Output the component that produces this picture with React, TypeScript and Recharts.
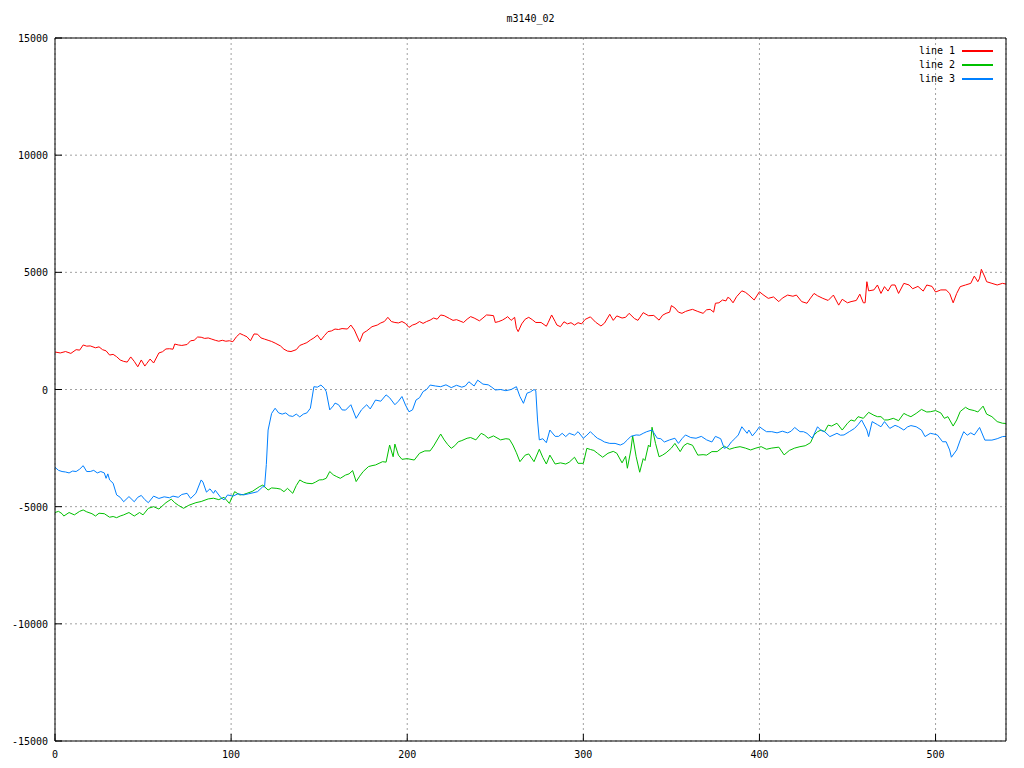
import React from 'react';
import { LineChart, Line, XAxis, YAxis, CartesianGrid } from 'recharts';

// [x, value] pairs
const line1: [number, number][] = [
  [0, 1600], [3, 1560], [6, 1620], [9, 1540], [12, 1700], [14, 1680], [16, 1900], [18, 1850], [20, 1860],
  [23, 1780], [25, 1820], [27, 1700], [29, 1650], [31, 1470], [33, 1500], [35, 1400], [37, 1260], [39, 1200],
  [41, 1170], [43, 1390], [45, 1200], [47, 970], [49, 1260], [51, 1000], [52, 1100], [54, 1300], [56, 1130],
  [59, 1560], [61, 1610], [63, 1730], [65, 1740], [67, 1720], [68, 1940], [70, 1900], [72, 1880], [75, 1920],
  [77, 2080], [79, 2100], [81, 2240], [83, 2230], [85, 2180], [87, 2200], [89, 2150], [91, 2100], [93, 2060],
  [95, 2100], [97, 2060], [99, 2080], [101, 2040], [103, 2250], [105, 2390], [107, 2320], [109, 2250],
  [111, 2080], [113, 2370], [115, 2360], [117, 2200], [119, 2150], [121, 2100], [123, 2050], [125, 1980],
  [128, 1860], [130, 1720], [132, 1640], [134, 1620], [137, 1700], [139, 1880], [141, 1940], [143, 2000],
  [145, 2110], [147, 2200], [149, 2320], [151, 2110], [153, 2300], [155, 2470], [157, 2500], [159, 2580],
  [161, 2560], [163, 2600], [166, 2580], [168, 2750], [170, 2540], [172, 2200], [173, 2040], [175, 2410],
  [177, 2500], [180, 2680], [183, 2750], [185, 2840], [187, 2900], [189, 3080], [191, 2900], [193, 2860],
  [195, 2840], [197, 2900], [199, 2820], [201, 2650], [203, 2750], [205, 2800], [207, 2900], [209, 2820],
  [211, 2900], [213, 2960], [215, 3050], [217, 3000], [219, 3180], [221, 3150], [224, 3030], [226, 2950],
  [228, 2980], [230, 2920], [232, 2860], [234, 3000], [236, 3110], [238, 3050], [241, 2930], [243, 3050],
  [245, 3180], [247, 3170], [249, 3150], [250, 2860], [252, 2900], [254, 2960], [256, 3050], [257, 3110],
  [259, 2950], [261, 3080], [262, 2610], [263, 2470], [265, 2800], [267, 3000], [269, 3080], [271, 2980],
  [273, 2860], [276, 2860], [279, 2700], [280, 2850], [282, 3180], [284, 2900], [285, 2750], [287, 2680],
  [289, 2890], [291, 2800], [293, 2850], [295, 2750], [297, 2850], [299, 2800], [301, 2990], [304, 3100],
  [307, 2870], [310, 2710], [312, 2830], [315, 3210], [317, 2950], [319, 3140], [322, 3050], [324, 3080],
  [326, 3250], [329, 3030], [331, 2950], [334, 3280], [337, 3150], [340, 3160], [343, 2960], [345, 3170],
  [347, 3250], [349, 3300], [350, 3580], [352, 3480], [354, 3300], [356, 3250], [358, 3330], [360, 3380],
  [362, 3420], [365, 3330], [368, 3250], [370, 3400], [372, 3420], [374, 3300], [375, 3680], [377, 3700],
  [379, 3820], [381, 3780], [382, 3930], [383, 3900], [385, 3700], [387, 3960], [390, 4210], [392, 4150],
  [394, 4030], [397, 3820], [400, 4170], [402, 4050], [405, 3890], [408, 3950], [411, 3750], [413, 3900],
  [416, 4030], [419, 3980], [421, 4030], [424, 3750], [427, 3680], [429, 3900], [431, 4100], [433, 4000],
  [436, 3890], [439, 3800], [442, 4030], [445, 3600], [447, 3850], [450, 3700], [452, 3750], [455, 3800],
  [457, 4070], [459, 3700], [460, 3700], [461, 4600], [462, 4210], [465, 4250], [467, 4460], [469, 4100],
  [471, 4390], [473, 4200], [475, 4460], [477, 4460], [479, 4100], [482, 4530], [485, 4460], [487, 4300],
  [490, 4400], [493, 4200], [495, 4460], [498, 4400], [500, 4160], [503, 4250], [506, 4250], [508, 4100],
  [510, 3700], [512, 4100], [514, 4390], [517, 4460], [520, 4530], [522, 4840], [524, 4600], [525, 4750],
  [526, 5130], [528, 4800], [529, 4600], [532, 4530], [535, 4460], [538, 4530], [540, 4500],
];

const line2: [number, number][] = [
  [0, -5250], [2, -5200], [4, -5300], [5, -5400], [8, -5250], [11, -5350], [14, -5200], [16, -5140],
  [18, -5220], [21, -5300], [23, -5400], [25, -5280], [28, -5300], [31, -5450], [33, -5420], [35, -5470],
  [37, -5400], [39, -5350], [42, -5250], [45, -5400], [48, -5250], [50, -5350], [53, -5070], [56, -5000],
  [59, -5100], [63, -4830], [66, -4680], [68, -4830], [70, -4940], [73, -5070], [76, -4940], [80, -4830],
  [83, -4780], [87, -4670], [90, -4640], [93, -4700], [96, -4600], [99, -4860], [102, -4360], [105, -4500],
  [107, -4480], [109, -4430], [112, -4350], [116, -4150], [118, -4080], [121, -4290], [123, -4200],
  [126, -4220], [128, -4250], [130, -4360], [132, -4220], [135, -4430], [137, -4100], [139, -3860],
  [141, -3950], [143, -4000], [146, -4020], [148, -3950], [150, -3860], [152, -3850], [154, -3790],
  [156, -3500], [158, -3640], [160, -3720], [162, -3790], [165, -3650], [167, -3600], [169, -3460],
  [171, -3930], [173, -3700], [175, -3500], [178, -3290], [180, -3250], [182, -3220], [184, -3150],
  [186, -3080], [188, -3100], [190, -2370], [192, -2870], [193, -2330], [195, -2800], [197, -2980],
  [200, -2950], [204, -3010], [207, -2720], [210, -2620], [213, -2620], [215, -2410], [219, -1900],
  [221, -2150], [223, -2350], [225, -2510], [227, -2400], [229, -2230], [231, -2180], [234, -2080],
  [236, -2050], [239, -2150], [242, -1870], [244, -1950], [246, -2080], [249, -1980], [253, -2150],
  [256, -2100], [258, -2120], [260, -2370], [262, -2700], [264, -3080], [267, -2800], [269, -2750],
  [272, -3080], [275, -2550], [277, -2900], [279, -3180], [281, -2800], [284, -3180], [287, -3130],
  [290, -3180], [292, -3100], [295, -2890], [297, -3150], [300, -3150], [302, -2510], [304, -2560],
  [306, -2600], [308, -2720], [311, -2890], [314, -2720], [317, -2640], [319, -2720], [322, -3130],
  [324, -2850], [325, -3360], [327, -2580], [328, -1980], [330, -2870], [332, -3530], [334, -2950],
  [335, -3030], [337, -2370], [338, -2450], [339, -1610], [341, -2300], [343, -2870], [345, -2800],
  [347, -2700], [350, -2500], [352, -2300], [355, -2650], [357, -2400], [359, -2300], [362, -2380],
  [365, -2800], [368, -2780], [370, -2800], [373, -2650], [376, -2650], [380, -2420], [383, -2550],
  [386, -2480], [389, -2440], [392, -2500], [395, -2580], [398, -2500], [401, -2440], [404, -2550],
  [407, -2500], [411, -2460], [414, -2790], [417, -2600], [420, -2500], [423, -2440], [426, -2400],
  [429, -2270], [431, -1940], [433, -1800], [435, -1730], [437, -1800], [439, -1520], [441, -1560],
  [444, -1440], [447, -1730], [450, -1440], [452, -1300], [454, -1350], [456, -1160], [459, -1230],
  [462, -975], [465, -1100], [467, -1160], [469, -1160], [471, -1300], [473, -1300], [476, -1230],
  [479, -1330], [482, -1020], [484, -1100], [486, -1160], [489, -1020], [492, -850], [495, -960],
  [497, -950], [500, -900], [503, -1000], [505, -1230], [507, -1160], [510, -1560], [512, -1300],
  [514, -940], [517, -760], [519, -850], [522, -900], [524, -960], [527, -710], [529, -1050], [532, -1160],
  [535, -1370], [538, -1440], [540, -1450],
];

const line3: [number, number][] = [
  [0, -3320], [2, -3450], [4, -3500], [6, -3520], [8, -3560], [10, -3480], [12, -3500], [14, -3400],
  [16, -3250], [18, -3500], [20, -3500], [22, -3450], [24, -3560], [26, -3500], [28, -3560], [29, -3790],
  [30, -3600], [31, -3860], [33, -4000], [35, -4500], [37, -4600], [39, -4790], [42, -4570], [45, -4790],
  [47, -4600], [49, -4520], [51, -4700], [53, -4830], [56, -4550], [59, -4650], [62, -4580], [65, -4620],
  [67, -4550], [70, -4600], [72, -4480], [75, -4430], [77, -4650], [80, -4430], [83, -3860], [84, -3950],
  [86, -4380], [88, -4240], [90, -4430], [91, -4300], [94, -4600], [96, -4710], [98, -4500], [101, -4550],
  [104, -4450], [107, -4500], [110, -4450], [113, -4400], [115, -4360], [118, -4150], [119, -4150],
  [120, -3200], [121, -1730], [123, -1020], [125, -800], [127, -1000], [129, -1050], [131, -1000],
  [133, -1120], [135, -1150], [137, -1050], [139, -1170], [141, -1050], [143, -1000], [145, -800],
  [147, 120], [149, 100], [151, 190], [153, 50], [154, -90], [156, -870], [158, -700], [159, -580],
  [161, -650], [163, -870], [165, -880], [168, -650], [171, -1230], [174, -870], [177, -650], [179, -830],
  [182, -450], [185, -500], [188, -230], [190, -350], [191, -450], [193, -650], [195, -500], [197, -300],
  [199, -660], [201, -950], [203, -870], [205, -450], [207, -350], [209, -90], [211, 0], [213, 190],
  [216, 150], [219, 120], [222, 200], [225, 80], [228, 180], [231, 100], [233, 150], [235, 330], [238, 150],
  [240, 400], [243, 230], [246, 200], [248, 100], [250, -20], [253, 0], [256, -50], [259, 0], [262, 120],
  [264, -300], [266, -590], [268, -160], [270, -100], [272, 0], [273, -50], [274, -1300], [275, -2150],
  [277, -2100], [279, -2270], [281, -1730], [284, -2000], [286, -2000], [288, -1870], [290, -2010],
  [292, -1870], [295, -1950], [297, -1800], [300, -2080], [302, -1950], [304, -1800], [306, -1950],
  [308, -2080], [310, -2150], [312, -2240], [315, -2300], [318, -2300], [321, -2370], [323, -2300],
  [325, -2150], [327, -2000], [330, -1940], [332, -1950], [334, -1870], [336, -1800], [339, -1730],
  [342, -2080], [344, -2100], [346, -2240], [349, -2150], [352, -2080], [354, -2300], [356, -2100],
  [358, -1940], [361, -2050], [364, -2080], [367, -2000], [370, -2150], [373, -2240], [375, -2000],
  [378, -2100], [380, -2510], [382, -2450], [384, -2240], [386, -2100], [388, -1940], [390, -1590],
  [393, -1870], [394, -1730], [396, -1980], [398, -1800], [400, -1590], [402, -1700], [404, -1800],
  [407, -1800], [410, -1850], [413, -1780], [416, -1850], [418, -1780], [420, -1620], [423, -1800],
  [425, -1800], [427, -1870], [430, -2080], [433, -1590], [435, -1750], [437, -1800], [440, -2010],
  [444, -1870], [446, -1950], [448, -1940], [451, -1800], [454, -1660], [456, -1500], [458, -1300],
  [461, -1730], [462, -2010], [464, -1370], [467, -1500], [469, -1590], [471, -1370], [474, -1660],
  [477, -1530], [479, -1590], [482, -1730], [484, -1600], [486, -1540], [489, -1590], [492, -1730],
  [494, -2010], [497, -1870], [499, -1900], [501, -1940], [504, -2230], [506, -2230], [508, -2580],
  [509, -2890], [512, -2580], [514, -2160], [516, -1800], [518, -1950], [520, -1850], [522, -1940],
  [525, -1620], [528, -2160], [532, -2160], [535, -2100], [538, -2010], [540, -2000],
];

const xTicks = [0, 100, 200, 300, 400, 500];
const yTicks = [-15000, -10000, -5000, 0, 5000, 10000, 15000];

const seriesNames = ['line 1', 'line 2', 'line 3'];
const seriesColors = ['#ff0000', '#00c000', '#0080ff'];

const FONT = '"DejaVu Sans Mono", "Liberation Mono", monospace';

const toRows = (pts: [number, number][]) => pts.map(([x, y]) => ({ x, y }));

const BottomTick = ({ x, y, payload }: any) => (
  <g>
    <line x1={x} y1={y} x2={x} y2={y - 7} stroke="#000" />
    <text x={x} y={y + 17} textAnchor="middle" fontSize={10} fontFamily={FONT} fill="#000">
      {payload.value}
    </text>
  </g>
);

const TopTick = ({ x, y }: any) => <line x1={x} y1={y} x2={x} y2={y + 7} stroke="#000" />;

const LeftTick = ({ x, y, payload }: any) => (
  <g>
    <line x1={x} y1={y} x2={x + 7} y2={y} stroke="#000" />
    <text x={x - 7} y={y + 4} textAnchor="end" fontSize={10} fontFamily={FONT} fill="#000">
      {payload.value}
    </text>
  </g>
);

const RightTick = ({ x, y }: any) => <line x1={x} y1={y} x2={x - 7} y2={y} stroke="#000" />;

export default function App() {
  const data = [toRows(line1), toRows(line2), toRows(line3)];

  return (
    <div style={{ position: 'absolute', left: 0, top: 0, width: 1024, height: 768, background: '#fff' }}>
      <div
        style={{
          position: 'absolute',
          left: 0,
          top: 13,
          width: 1061,
          textAlign: 'center',
          fontFamily: FONT,
          fontSize: 10,
          color: '#000',
        }}
      >
        m3140_02
      </div>
      <LineChart width={1024} height={768} margin={{ top: 0, right: 0, bottom: 0, left: 0 }}>
        <CartesianGrid stroke="#a0a0a0" strokeDasharray="2 3" />
        <XAxis
          xAxisId={0}
          type="number"
          dataKey="x"
          domain={[0, 540]}
          ticks={xTicks}
          allowDataOverflow
          height={27}
          tickSize={0}
          tickMargin={0}
          tickLine={false}
          stroke="#000"
          tick={<BottomTick />}
          interval={0}
        />
        <XAxis
          xAxisId="top"
          orientation="top"
          type="number"
          domain={[0, 540]}
          ticks={xTicks}
          height={38}
          tickSize={0}
          tickMargin={0}
          tickLine={false}
          stroke="#000"
          tick={<TopTick />}
          interval={0}
        />
        <YAxis
          yAxisId={0}
          type="number"
          domain={[-15000, 15000]}
          ticks={yTicks}
          allowDataOverflow
          width={55}
          tickSize={0}
          tickMargin={0}
          tickLine={false}
          stroke="#000"
          tick={<LeftTick />}
          interval={0}
        />
        <YAxis
          yAxisId="right"
          orientation="right"
          type="number"
          domain={[-15000, 15000]}
          ticks={yTicks}
          width={18}
          tickSize={0}
          tickMargin={0}
          tickLine={false}
          stroke="#000"
          tick={<RightTick />}
          interval={0}
        />
        {data.map((rows, i) => (
          <Line
            key={seriesNames[i]}
            data={rows}
            dataKey="y"
            name={seriesNames[i]}
            type="linear"
            stroke={seriesColors[i]}
            strokeWidth={1}
            dot={false}
            activeDot={false}
            isAnimationActive={false}
          />
        ))}
      </LineChart>
      <svg
        width={130}
        height={50}
        style={{ position: 'absolute', left: 870, top: 40, display: 'block' }}
      >
        {seriesNames.map((name, i) => (
          <g key={name}>
            <text
              x={85}
              y={14 + i * 14}
              textAnchor="end"
              fontFamily={FONT}
              fontSize={10}
              fill="#000"
            >
              {name}
            </text>
            <rect x={92} y={10 + i * 14} width={31} height={2} fill={seriesColors[i]} />
          </g>
        ))}
      </svg>
    </div>
  );
}
